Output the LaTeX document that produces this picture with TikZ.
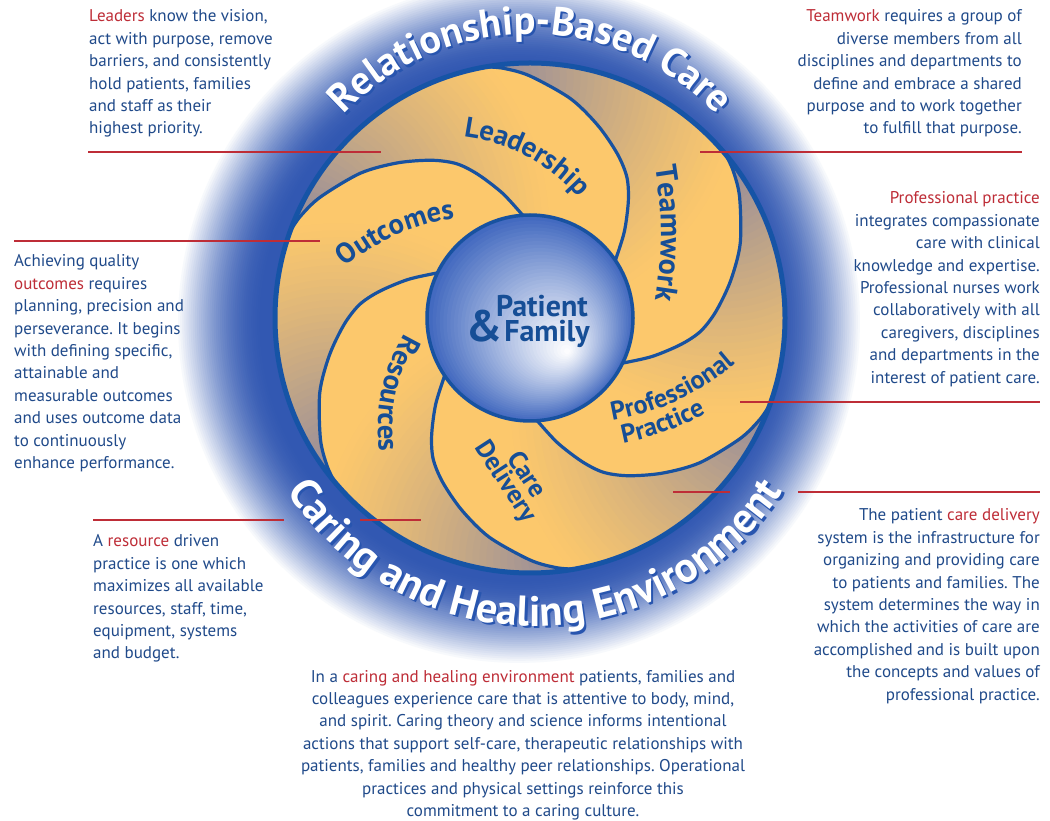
\documentclass[tikz,border=0pt]{standalone}
\usepackage{fontspec}
\setmainfont{PT Sans}
\usetikzlibrary{decorations.text}

\definecolor{yelc}{RGB}{252,200,108}
\definecolor{gryc}{RGB}{146,138,156}
\definecolor{hblue}{RGB}{50,88,178}
\definecolor{ringblue}{RGB}{22,84,166}
\definecolor{divblue}{RGB}{24,82,160}
\definecolor{iblue}{RGB}{62,102,190}
\definecolor{txtblue}{RGB}{32,74,138}
\definecolor{lblblue}{RGB}{22,78,150}
\definecolor{redc}{RGB}{190,45,55}
\definecolor{shadowblue}{RGB}{40,85,175}

\newcommand\bodyfont{\fontsize{17}{22.4}\selectfont\frenchspacing}
\newcommand\rbfont{\fontsize{40}{40}\selectfont\bfseries}
\newcommand\chfont{\fontsize{42.5}{42.5}\selectfont\bfseries}
\newcommand\armfont{\fontsize{28.5}{28.5}\selectfont\bfseries}
\newcommand\tmfont{\fontsize{30}{30}\selectfont\bfseries}
\newcommand\ppfont{\fontsize{26}{26}\selectfont\bfseries}
\newcommand\pffont{\fontsize{30}{30}\selectfont\bfseries}
\newcommand\blk[3]{\parbox[t]{#1}{#2\bodyfont #3}}

\newcommand\divfwd[1]{plot[smooth] coordinates {({#1-67.5}:100) ({#1-66}:103) ({#1-57.5}:128) ({#1-50}:153) ({#1-44.5}:171) ({#1-38}:186) ({#1-29.5}:204) ({#1-20.5}:223) ({#1-10}:242) ({#1-4}:251) ({#1}:255)}}
\newcommand\divrev[1]{-- plot[smooth] coordinates {({#1}:255) ({#1-4}:251) ({#1-10}:242) ({#1-20.5}:223) ({#1-29.5}:204) ({#1-38}:186) ({#1-44.5}:171) ({#1-50}:153) ({#1-57.5}:128) ({#1-66}:103) ({#1-67.5}:100)}}

\tikzset{
  redline/.style={draw=redc, line width=1.5pt},
  divline/.style={draw=divblue, line width=3.2pt},
  bodytext/.style={inner sep=0pt, text=txtblue},
  armtext/.style={decorate, decoration={text along path, text align=center, text color=lblblue}},
  ringtext/.style={decorate, decoration={text along path, text align=center}},
}

\begin{document}
\begin{tikzpicture}[x=1pt,y=1pt]
\useasboundingbox (0,0) rectangle (1050,820);
\fill[white] (0,0) rectangle (1050,820);

% halo
\foreach \k in {0,...,42}{
  \pgfmathsetmacro\rr{343-88*\k/42}
  \pgfmathsetmacro\ww{100*cos(90*(1-\k/42))}
  \fill[hblue!\ww!white] (519,498) circle (\rr);
}

\begin{scope}[shift={(530,502)}]
  % arms
  \foreach \a in {40,100,160,220,280,340}{
    \begin{scope}
      \clip \divfwd{\a+60} arc[start angle=\a+60, end angle=\a, radius=255] \divrev{\a} arc[start angle=\a-67.5, end angle=\a-7.5, radius=100] -- cycle;
      \fill[yelc] (0,0) circle (258);
      \foreach \k in {0,...,36}{
        \pgfmathsetmacro\dd{250*(1-\k/36)+1}
        \pgfmathsetmacro\ww{100*(1-(\dd-1)/250)^1.2}
        \fill[gryc!\ww!yelc] (\a+58:243) circle (\dd);
      }
    \end{scope}
  }
  % dividers
  \foreach \a in {40,100,160,220,280,340}{
    \draw[divline] \divfwd{\a};
  }
  % outer ring
  \draw[ringblue, line width=5pt] (0,0) circle (255);
  % inner circle
  \begin{scope}
    \clip (0,0) circle (103);
    \foreach \k in {0,...,40}{
      \pgfmathsetmacro\s{\k/40}
      \pgfmathsetmacro\ww{100*(1-\s)^1.1}
      \fill[iblue!\ww!white] ({38*\s},{-34*\s}) circle ({104*(1-\s)+0.5});
    }
  \end{scope}
  \draw[divblue, line width=3.5pt] (0,0) circle (103);
\end{scope}

% centre text
\node[anchor=base east, inner sep=0pt, text=lblblue, font=\pffont] (pat) at (588,503) {Patient};
\node[anchor=base east, inner sep=0pt, text=lblblue, font=\pffont] (fam) at (590,478) {{\fontsize{44}{44}\selectfont\&}\hspace{2pt}Family};

% arm labels
\path[armtext, decoration={text={|\armfont|Leadership}}] ([shift={(440,500)}]92:185) arc[start angle=92, end angle=32, radius=185];
\path[armtext, decoration={text={|\armfont|Outcomes}}] ([shift={(486,384)}]144:220) arc[start angle=144, end angle=84, radius=220];
\path[armtext, decoration={text={|\tmfont|Teamwork}}] ([shift={(261,587)}]10:400) arc[start angle=10, end angle=-10, radius=400];
\path[armtext, decoration={text={|\armfont|Resources}}] ([shift={(568,390)}]143:190) arc[start angle=143, end angle=193, radius=190];
\path[armtext, decoration={text={|\ppfont|Professional}}] ([shift={(572,646)}]-95:250) arc[start angle=-95, end angle=-35, radius=250];
\path[armtext, decoration={text={|\ppfont|Practice}}] ([shift={(572,646)}]-97:274) arc[start angle=-97, end angle=-43, radius=274];
\node[rotate=-57, inner sep=0pt, text=lblblue, font=\ppfont] (care) at (528,346) {Care};
\node[rotate=-57, inner sep=0pt, text=lblblue, font=\ppfont] (deliv) at (505,338) {Delivery};

% red leader lines
\coordinate (l1a) at (88,668);  \coordinate (l1b) at (381,668);
\coordinate (l2a) at (14,579);  \coordinate (l2b) at (320,579);
\coordinate (l3a) at (700,668); \coordinate (l3b) at (1022,668);
\coordinate (l4a) at (740,418); \coordinate (l4b) at (1040,418);
\coordinate (l5a) at (673,328); \coordinate (l5b) at (730,328);
\coordinate (l5c) at (798,328); \coordinate (l5d) at (1040,328);
\coordinate (l6a) at (93,300);  \coordinate (l6b) at (284,300);
\coordinate (l6c) at (360,300); \coordinate (l6d) at (421,300);
\draw[redline] (l1a) -- (l1b);
\draw[redline] (l2a) -- (l2b);
\draw[redline] (l3a) -- (l3b);
\draw[redline] (l4a) -- (l4b);
\draw[redline] (l5a) -- (l5b);
\draw[redline] (l5c) -- (l5d);
\draw[redline] (l6a) -- (l6b);
\draw[redline] (l6c) -- (l6d);

% ring texts
\path[ringtext, decoration={text color=shadowblue, text={|\rbfont|Relationship-Based Care}}] ([shift={(532.2,528.8)}]160:255) arc[start angle=160, end angle=20, radius=255];
\path[ringtext, decoration={text color=white, text={|\rbfont|Relationship-Based Care}}] ([shift={(530,531)}]160:255) arc[start angle=160, end angle=20, radius=255];
\path[ringtext, decoration={text color=shadowblue, text={|\chfont|Caring and Healing Environment}}] ([shift={(537.2,487.8)}]200:296) arc[start angle=200, end angle=340, radius=296];
\path[ringtext, decoration={text color=white, text={|\chfont|Caring and Healing Environment}}] ([shift={(535,490)}]200:296) arc[start angle=200, end angle=340, radius=296];

% body text
\node[bodytext, anchor=base west] (tl) at (89,798) {\blk{330pt}{\raggedright}{\textcolor{redc}{Leaders} know the vision,\\ act with purpose, remove\\ barriers, and consistently\\ hold patients, families\\ and staff as their\\ highest priority.}};
\node[bodytext, anchor=base east] (tr) at (1022,798) {\blk{330pt}{\raggedleft}{\textcolor{redc}{Teamwork} requires a group of\\ diverse members from all\\ disciplines and departments to\\ define and embrace a shared\\ purpose and to work together\\ to fulfill that purpose.}};
\node[bodytext, anchor=base east] (pp) at (1040,616) {\blk{330pt}{\raggedleft}{\textcolor{redc}{Professional practice}\\ integrates compassionate\\ care with clinical\\ knowledge and expertise.\\ Professional nurses work\\ collaboratively with all\\ caregivers, disciplines\\ and departments in the\\ interest of patient care.}};
\node[bodytext, anchor=base west] (oc) at (14,553) {\blk{330pt}{\raggedright}{Achieving quality\\ \textcolor{redc}{outcomes} requires\\ planning, precision and\\ perseverance. It begins\\ with defining specific,\\ attainable and\\ measurable outcomes\\ and uses outcome data\\ to continuously\\ enhance performance.}};
\node[bodytext, anchor=base west] (rs) at (93,273) {\blk{330pt}{\raggedright}{A \textcolor{redc}{resource} driven\\ practice is one which\\ maximizes all available\\ resources, staff, time,\\ equipment, systems\\ and budget.}};
\node[bodytext, anchor=base east] (cd) at (1040,299) {\blk{330pt}{\raggedleft}{The patient \textcolor{redc}{care delivery}\\ system is the infrastructure for\\ organizing and providing care\\ to patients and families. The\\ system determines the way in\\ which the activities of care are\\ accomplished and is built upon\\ the concepts and values of\\ professional practice.}};
\node[bodytext, anchor=base] (ch) at (523,138) {\blk{600pt}{\centering}{In a \textcolor{redc}{caring and healing environment} patients, families and\\ colleagues experience care that is attentive to body, mind,\\ and spirit. Caring theory and science informs intentional\\ actions that support self-care, therapeutic relationships with\\ patients, families and healthy peer relationships. Operational\\ practices and physical settings reinforce this\\ commitment to a caring culture.}};
\end{tikzpicture}
\end{document}
